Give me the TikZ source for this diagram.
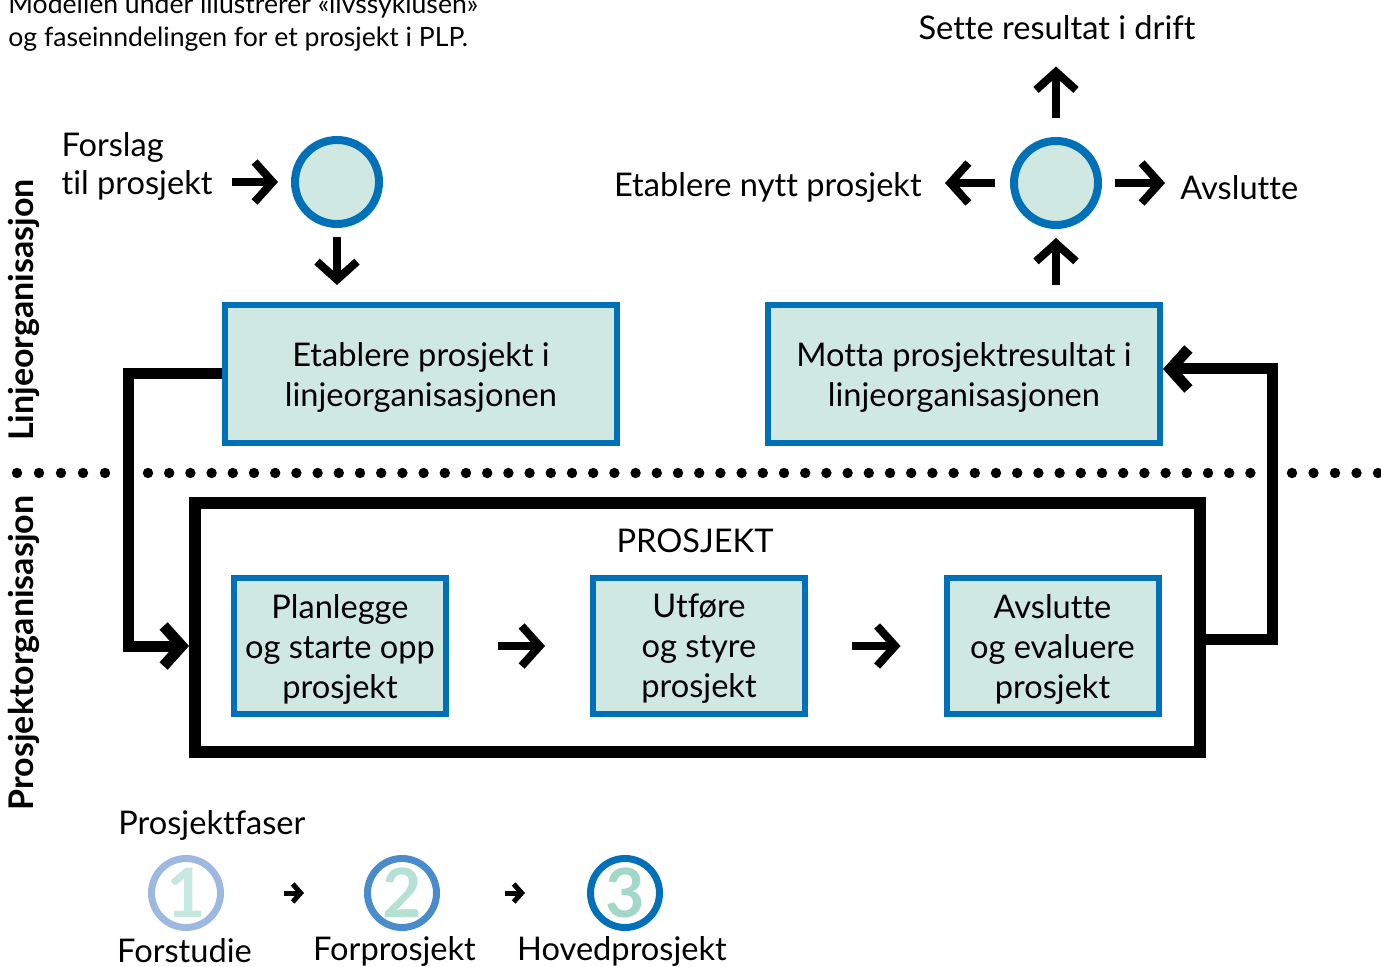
\documentclass[tikz,border=0pt]{standalone}
\usepackage{fontspec}
\setmainfont{Lato}[Ligatures=NoCommon]
\usetikzlibrary{arrows.meta,positioning}
\definecolor{pblue}{HTML}{0070B8}
\definecolor{pbluemid}{HTML}{4A8BCB}
\definecolor{pbluelight}{HTML}{9DB9E2}
\definecolor{pmint}{HTML}{CFE9E2}
\definecolor{pmintA}{HTML}{C6E8DE}
\definecolor{pmintB}{HTML}{B5E0D4}
\definecolor{pmintC}{HTML}{A3D8C9}
\tikzset{
  >={Straight Barb[length=9pt, width=20pt]},
  ptxt/.style={inner sep=0pt, font=\fontsize{16.3}{19}\selectfont},
  pbox/.style={draw=pblue, fill=pmint, line width=3pt, align=center, text depth=0pt,
               font=\fontsize{16.3}{20}\selectfont, inner sep=0pt},
  plinebox/.style={pbox, minimum width=196pt, minimum height=69pt},
  pfasebox/.style={pbox, minimum width=106pt, minimum height=68pt},
  pcirc/.style={circle, draw=pblue, fill=pmint, line width=4pt,
                minimum size=42pt, inner sep=0pt},
  pnum/.style={circle, line width=3.5pt, minimum size=34.5pt, inner sep=0pt,
               font=\bfseries\fontsize{34}{34}\selectfont},
  parrow/.style={->, line width=4pt},
  pconn/.style={->, line width=5.5pt},
  psmall/.style={-{Straight Barb[length=4pt, width=9pt]}, line width=2.5pt},
  pside/.style={font=\bfseries\fontsize{17}{17}\selectfont, rotate=90, inner sep=0pt},
}

\begin{document}
\begin{tikzpicture}[x=0.5pt, y=-0.5pt]
  \useasboundingbox (0,0) rectangle (1381,967);

  \node[ptxt, font=\fontsize{13.3}{16.5}\selectfont, align=left, anchor=west] (intro) at (8,23)
    {Modellen under illustrerer «livssyklusen»\\og faseinndelingen for et prosjekt i PLP.};

  \node[pside] (linje) at (24,310) {Linjeorganisasjon};
  \node[pside] (prosjektorg) at (24,653) {Prosjektorganisasjon};

  % linjeorganisasjonen
  \node[ptxt, align=left] (forslag) at (137,166) {Forslag\\til prosjekt};
  \node[pcirc] (start) at (337,182) {};
  \node[plinebox] (etablere) at (421,374) {Etablere prosjekt i\\linjeorganisasjonen};
  \node[plinebox] (motta) at (964,374) {Motta prosjektresultat i\\linjeorganisasjonen};
  \node[pcirc] (slutt) at (1056,183) {};
  \node[ptxt] (drift) at (1057,28) {Sette resultat i drift};
  \node[ptxt, anchor=east] (nytt) at (922,187) {Etablere nytt prosjekt};
  \node[ptxt, anchor=west] (avslutt) at (1180,188) {Avslutte};

  \draw[parrow, shorten <=9.5pt, shorten >=6.5pt] (forslag.east |- start.west) -- (start.west);
  \draw[parrow, shorten <=4.5pt, shorten >=8.5pt] (start.south) -- (start.south |- etablere.north);
  \draw[parrow, shorten <=8.5pt, shorten >=4.5pt] (slutt.south |- motta.north) -- (slutt.south);
  \draw[parrow, shorten <=9.5pt, shorten >=13pt] (slutt.north) -- (slutt.north |- drift.south);
  \draw[parrow, shorten <=7.5pt, shorten >=11.5pt] (slutt.west) -- (nytt.east |- slutt.west);
  \draw[parrow, shorten <=6.5pt, shorten >=7.5pt] (slutt.east) -- (avslutt.west |- slutt.east);

  % skillelinje
  \foreach \x in {17,39,...,105} \fill (\x,473) circle[radius=2.6pt];
  \foreach \x in {148,169.2,...,1251} \fill (\x,473) circle[radius=2.6pt];
  \foreach \x in {1292,1313.5,...,1380} \fill (\x,473) circle[radius=2.6pt];

  % prosjektorganisasjonen
  \node[draw, line width=6pt, minimum width=502.5pt, minimum height=124.5pt, inner sep=0pt]
    (prosjekt) at (697.5,627.5) {};
  \node[ptxt] (tittel) at (695,541) {PROSJEKT};
  \node[pfasebox] (planlegge) at (340,646) {Planlegge\\og starte opp\\prosjekt};
  \node[pfasebox] (utfore) at (699,646) {Utføre\\og styre\\prosjekt};
  \node[pfasebox] (evaluere) at (1052.5,646) {Avslutte\\og evaluere\\prosjekt};

  \draw[parrow, shorten <=24.5pt, shorten >=22.5pt] (planlegge) -- (utfore);
  \draw[parrow, shorten <=22pt, shorten >=21.5pt] (utfore) -- (evaluere);

  \coordinate (venstre) at (128,0);
  \coordinate (hoyre) at (1272,0);
  \draw[pconn] (etablere.west) -| (venstre |- planlegge.west) -- (prosjekt.west |- planlegge.west);
  \draw[pconn] ([yshift=-6pt]prosjekt.east) -| ([yshift=2.5pt]hoyre |- motta.east)
    -- ([yshift=2.5pt]motta.east);

  % faser
  \node[ptxt, anchor=west] (faser) at (118,825) {Prosjektfaser};
  \foreach \n/\x/\lx/\col/\num/\lab in {1/186/184.5/pbluelight/pmintA/Forstudie,
      2/402/394.5/pbluemid/pmintB/Forprosjekt, 3/625/622/pblue/pmintC/Hovedprosjekt}
  {
    \node[pnum, draw=\col, text=\num] (fase\n) at (\x,893) {\n};
    \node[ptxt] (fasenavn\n) at (\lx,951) {\lab};
  }
  \draw[psmall, shorten <=30pt, shorten >=30pt] (fase1) -- (fase2);
  \draw[psmall, shorten <=32.5pt, shorten >=31pt] (fase2) -- (fase3);

\end{tikzpicture}
\end{document}
